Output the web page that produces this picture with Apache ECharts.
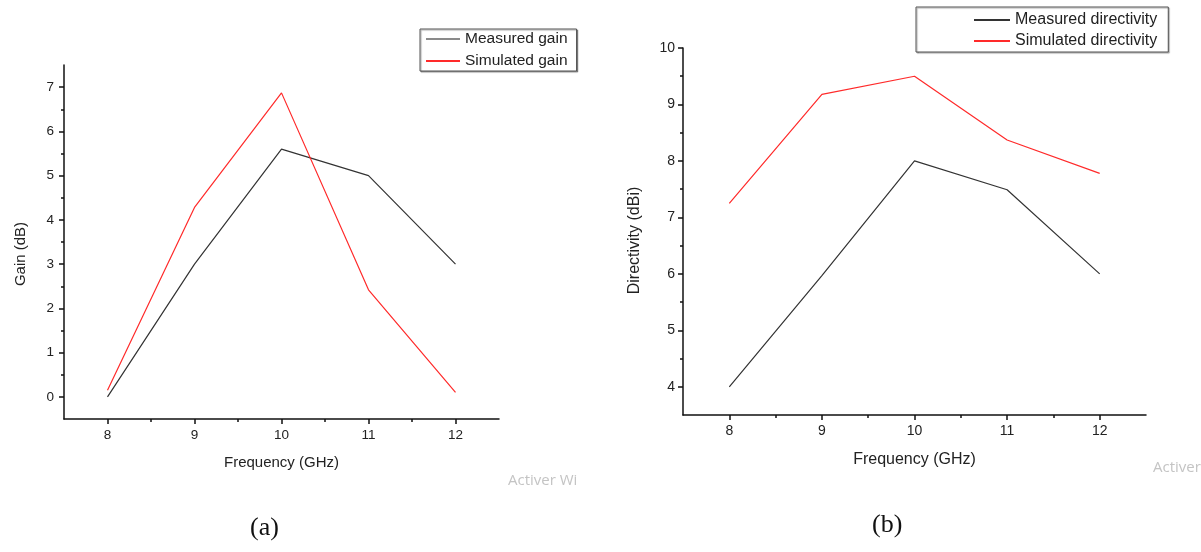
<!DOCTYPE html>
<html>
<head>
<meta charset="utf-8">
<script src="https://cdn.jsdelivr.net/npm/echarts@6/dist/echarts.min.js"></script>
<style>
html,body{margin:0;padding:0;background:#fff;}
#chart{width:1201px;height:552px;}
</style>
</head>
<body>
<div id="chart"></div>
<script>
// ---- data ----
var frequency = [8, 9, 10, 11, 12];
var measuredGain = [0, 3, 5.6, 5.0, 3.0];
var simulatedGain = [0.15, 4.28, 6.87, 2.42, 0.1];
var measuredDirectivity = [4.0, 5.97, 8.0, 7.49, 6.0];
var simulatedDirectivity = [7.25, 9.18, 9.5, 8.37, 7.78];
var xTicks = [8, 9, 10, 11, 12];
var xMinorTicks = [8.5, 9.5, 10.5, 11.5];
var gainTicks = [0, 1, 2, 3, 4, 5, 6, 7];
var gainMinorTicks = [0.5, 1.5, 2.5, 3.5, 4.5, 5.5, 6.5];
var dirTicks = [4, 5, 6, 7, 8, 9, 10];
var dirMinorTicks = [4.5, 5.5, 6.5, 7.5, 8.5, 9.5];

function pairs(xs, ys) { return xs.map(function (x, i) { return [x, ys[i]]; }); }

var FONT = 'Liberation Sans';
var AX = '#111';
var TXT = '#222';
var MEAS = '#333333';
var SIM = '#ff2a2a';

function mainAxis(opts) {
  return Object.assign({
    type: 'value',
    axisLine: { show: true, onZero: false, lineStyle: { color: AX, width: 1.5 } },
    axisTick: { show: true, inside: false, length: 5, lineStyle: { color: AX, width: 1.5 } },
    splitLine: { show: false },
    axisLabel: { color: TXT, fontFamily: FONT }
  }, opts);
}
function minorAxis(opts, ticks) {
  return Object.assign({
    type: 'value',
    axisLine: { show: false, onZero: false },
    axisTick: { show: true, inside: false, length: 3, customValues: ticks, lineStyle: { color: AX, width: 1.5 } },
    splitLine: { show: false },
    axisLabel: { show: false }
  }, opts);
}

var chart = echarts.init(document.getElementById('chart'), null, { renderer: 'canvas' });
var option = {
  backgroundColor: '#fff',
  animation: false,
  grid: [
    { left: 64, top: 65, width: 435, height: 354 },
    { left: 683, top: 48, width: 463, height: 367 }
  ],
  xAxis: [
    mainAxis({
      gridIndex: 0, position: 'bottom', min: 7.5, max: 12.5,
      axisTick: { show: true, length: 5, customValues: xTicks, lineStyle: { color: AX, width: 1.5 } },
      axisLabel: { color: TXT, fontFamily: FONT, fontSize: 13.5, margin: 9, customValues: xTicks },
      name: 'Frequency (GHz)', nameLocation: 'middle', nameGap: 36,
      nameTextStyle: { color: TXT, fontFamily: FONT, fontSize: 15 }
    }),
    minorAxis({ gridIndex: 0, position: 'bottom', min: 7.5, max: 12.5 }, xMinorTicks),
    mainAxis({
      gridIndex: 1, position: 'bottom', min: 7.5, max: 12.5,
      axisTick: { show: true, length: 5, customValues: xTicks, lineStyle: { color: AX, width: 1.5 } },
      axisLabel: { color: TXT, fontFamily: FONT, fontSize: 14, margin: 9, customValues: xTicks },
      name: 'Frequency (GHz)', nameLocation: 'middle', nameGap: 37,
      nameTextStyle: { color: TXT, fontFamily: FONT, fontSize: 16 }
    }),
    minorAxis({ gridIndex: 1, position: 'bottom', min: 7.5, max: 12.5 }, xMinorTicks)
  ],
  yAxis: [
    mainAxis({
      gridIndex: 0, position: 'left', min: -0.5, max: 7.5,
      axisTick: { show: true, length: 5, customValues: gainTicks, lineStyle: { color: AX, width: 1.5 } },
      axisLabel: { color: TXT, fontFamily: FONT, fontSize: 13.5, margin: 10, customValues: gainTicks },
      name: 'Gain (dB)', nameLocation: 'middle', nameGap: 36,
      nameTextStyle: { color: TXT, fontFamily: FONT, fontSize: 15, padding: [0, 24, 0, 0] }
    }),
    minorAxis({ gridIndex: 0, position: 'left', min: -0.5, max: 7.5 }, gainMinorTicks),
    mainAxis({
      gridIndex: 1, position: 'left', min: 3.5, max: 10,
      axisTick: { show: true, length: 5, customValues: dirTicks, lineStyle: { color: AX, width: 1.5 } },
      axisLabel: { color: TXT, fontFamily: FONT, fontSize: 14, margin: 8, customValues: dirTicks },
      name: 'Directivity (dBi)', nameLocation: 'middle', nameGap: 40,
      nameTextStyle: { color: TXT, fontFamily: FONT, fontSize: 16, padding: [0, 18, 0, 0] }
    }),
    minorAxis({ gridIndex: 1, position: 'left', min: 3.5, max: 10 }, dirMinorTicks)
  ],
  legend: [
    {
      left: 420, top: 29, orient: 'vertical', selectedMode: false,
      padding: [1, 9, 1, 6], itemGap: 4, itemWidth: 34, itemHeight: 2, icon: 'rect',
      borderColor: '#555', borderWidth: 1,
      shadowColor: 'rgba(0,0,0,0.35)', shadowOffsetX: 1, shadowOffsetY: 1, shadowBlur: 1,
      backgroundColor: '#fff',
      textStyle: { fontFamily: FONT, fontSize: 15.5, color: TXT, lineHeight: 18 },
      data: [{ name: 'Measured gain', itemStyle: { color: '#8a8a8a' } }, { name: 'Simulated gain' }]
    },
    {
      left: 916, top: 7, orient: 'vertical', selectedMode: false,
      padding: [4, 11, 2, 58], itemGap: 3, itemWidth: 36, itemHeight: 2, icon: 'rect',
      borderColor: '#555', borderWidth: 1,
      shadowColor: 'rgba(0,0,0,0.35)', shadowOffsetX: 1, shadowOffsetY: 1, shadowBlur: 1,
      backgroundColor: '#fff',
      textStyle: { fontFamily: FONT, fontSize: 16, color: TXT, lineHeight: 18 },
      data: [{ name: 'Measured directivity' }, { name: 'Simulated directivity' }]
    }
  ],
  series: [
    { name: 'Measured gain', type: 'line', xAxisIndex: 0, yAxisIndex: 0, data: pairs(frequency, measuredGain),
      showSymbol: false, symbol: 'none', lineStyle: { color: MEAS, width: 1.2 }, itemStyle: { color: MEAS } },
    { name: 'Simulated gain', type: 'line', xAxisIndex: 0, yAxisIndex: 0, data: pairs(frequency, simulatedGain),
      showSymbol: false, symbol: 'none', lineStyle: { color: SIM, width: 1.2 }, itemStyle: { color: SIM } },
    { name: 'Measured directivity', type: 'line', xAxisIndex: 2, yAxisIndex: 2, data: pairs(frequency, measuredDirectivity),
      showSymbol: false, symbol: 'none', lineStyle: { color: MEAS, width: 1.2 }, itemStyle: { color: MEAS } },
    { name: 'Simulated directivity', type: 'line', xAxisIndex: 2, yAxisIndex: 2, data: pairs(frequency, simulatedDirectivity),
      showSymbol: false, symbol: 'none', lineStyle: { color: SIM, width: 1.2 }, itemStyle: { color: SIM } }
  ],
  graphic: [
    { type: 'text', left: 250, top: 515, style: { text: '(a)', fill: '#111', font: '26px "Liberation Serif"' } },
    { type: 'text', left: 872, top: 512, style: { text: '(b)', fill: '#111', font: '26px "Liberation Serif"' } },
    { type: 'text', left: 508, top: 473, style: { text: 'Activer Wi', fill: '#c4c4c4', font: '15px "Open Sans"' } },
    { type: 'text', left: 1153, top: 460, style: { text: 'Activer Windows', fill: '#c4c4c4', font: '15px "Open Sans"' } }
  ]
};
chart.setOption(option);
</script>
</body>
</html>
